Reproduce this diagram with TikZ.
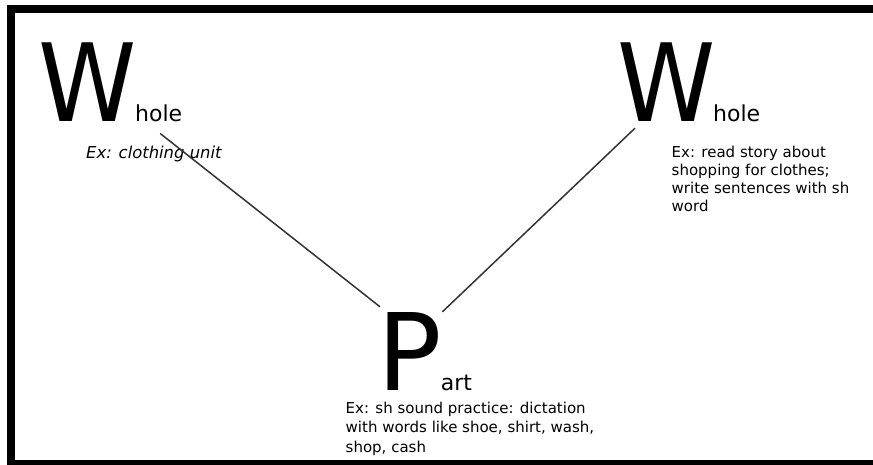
\documentclass[tikz,border=0pt]{standalone}
\usepackage{fontspec}
\setmainfont{DejaVu Sans}
\usetikzlibrary{calc}

\begin{document}
\begin{tikzpicture}[x=1pt, y=1pt]
        % ================= 样式定义 =================
        \tikzset{
            % 大写首字母
            bigletter/.style={anchor=base west, inner sep=0pt, font=\fontsize{108}{108}\selectfont},
            % 首字母后面的小字
            suffix/.style={anchor=base west, inner sep=0pt, font=\fontsize{22}{22}\selectfont},
            % 例子说明文字 (base 是最后一行的基线)
            example/.style={anchor=base west, inner sep=0pt, align=left, font=\fontsize{15}{18}\selectfont},
            % 连线
            link/.style={line width=1.5pt, draw=black!80}
        }

        \useasboundingbox (0,0) rectangle (873,464);
        \clip (0,0) rectangle (873,464);

        % ================= 外框 =================
        \draw[line width=8pt] (11,0) rectangle (900,455);

        % ================= 左边:Whole =================
        \node[bigletter] (wl) at (38.6,342) {\scalebox{0.92}[1]{W}};
        \node[suffix] (hl) at (135,342) {hole};
        \node[example, font=\fontsize{16.4}{18}\selectfont\itshape] (exl) at (86,305) {Ex: clothing unit};

        % ================= 右边:Whole =================
        \node[bigletter] (wr) at (617,342) {\scalebox{0.92}[1]{W}};
        \node[suffix] (hr) at (713,342) {hole};
        \node[example] (exr) at (671.5,252) {Ex: read story about\\shopping for clothes;\\write sentences with sh\\word};

        % ================= 下面:Part =================
        \node[bigletter, font=\fontsize{107}{107}\selectfont] (pp) at (377.5,74) {P};
        \node[suffix] (pa) at (440.7,74) {art};
        \node[example, font=\fontsize{15}{19.5}\selectfont] (exp) at (345.5,12) {Ex: sh sound practice: dictation\\with words like shoe, shirt, wash,\\shop, cash};

        % 连线 W -- P -- W
        \draw[link] ($(hl.south)+(1.5,-11)$) -- ($(pp.north west)+(2.5,5)$);
        \draw[link] ($(wr.south west)+(18,-6)$) -- (pp.north east);

    \end{tikzpicture}
\end{document}
